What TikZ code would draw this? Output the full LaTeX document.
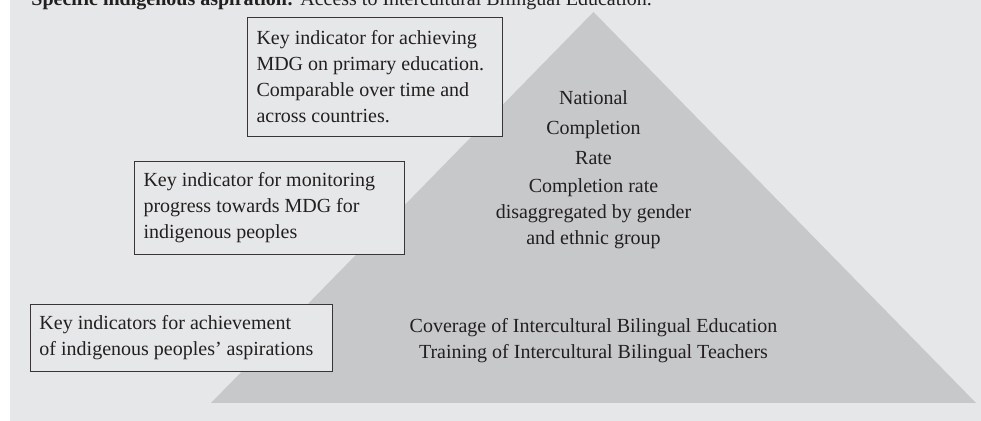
\documentclass[tikz,border=0pt]{standalone}
\usepackage{fontspec}
\setmainfont{Liberation Serif}

\definecolor{panelgray}{HTML}{E6E7E8}
\definecolor{pyramidgray}{HTML}{C7C8CA}
\definecolor{inkgray}{HTML}{231F20}

\begin{document}
\begin{tikzpicture}[x=0.5pt,y=0.5pt]
\tikzstyle{every node}+=[text=inkgray, font=\fontsize{10}{13}\selectfont]
\tikzstyle{keybox}=[draw=inkgray!90, line width=0.5pt, fill=panelgray, anchor=north west, align=flush left, inner xsep=4.5pt, inner ysep=0pt]
\tikzstyle{level}=[align=center, inner sep=0pt]
\useasboundingbox (0,0) rectangle (981,-421);
\clip (0,0) rectangle (981,-421);
% panel and pyramid
\fill [panelgray] (10,0) rectangle (981,-421);
\fill [pyramidgray] (211,-403) -- (976,-403) -- (593.5,-12) -- cycle;
\node [anchor=base west, inner sep=0pt] (aspiration) at (31,-5.5) {\textbf{Specific indigenous aspiration:} Access to Intercultural Bilingual Education.};
% boxes on the left
\node [keybox, text width=118.5pt, minimum height=59.5pt] (mdg) at (247,-17) {Key indicator for achieving\\MDG on primary education.\\Comparable over time and\\across countries.};
\node [keybox, text width=126pt, minimum height=46.5pt] (monitor) at (134,-161) {Key indicator for monitoring\\progress towards MDG for\\indigenous peoples};
\node [keybox, text width=142pt, minimum height=33.5pt] (achieve) at (30,-304) {Key indicators for achievement\\of indigenous peoples' aspirations};
% pyramid levels
\node [level, font=\fontsize{10}{15}\selectfont] (national) at (593.5,-128) {National\\Completion\\Rate};
\node [level] (gender) at (593.5,-214) {Completion rate\\disaggregated by gender\\and ethnic group};
\node [level] (ibe) at (593.5,-341) {Coverage of Intercultural Bilingual Education\\Training of Intercultural Bilingual Teachers};
\end{tikzpicture}
\end{document}
